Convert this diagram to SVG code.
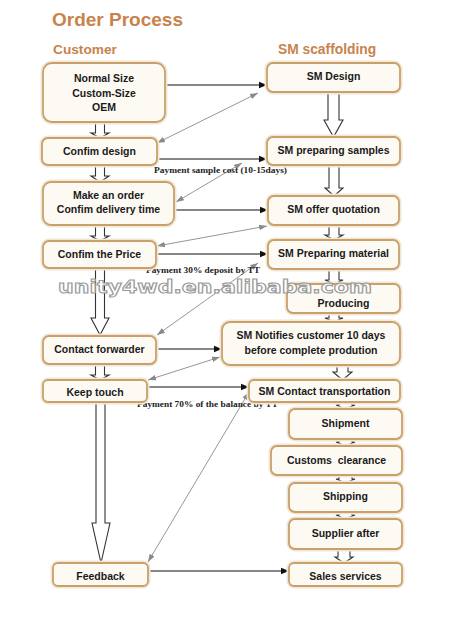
<svg xmlns="http://www.w3.org/2000/svg" width="450" height="624" viewBox="0 0 450 624">
<defs>
<style>
.bx{fill:#fdfaf3;stroke:#c9a06a;stroke-width:1.8}
.gl{fill:none;stroke:#f1e7d6;stroke-width:5}
.t{font-family:"Liberation Sans",Arial,sans-serif;font-weight:bold;font-size:10.5px;fill:#1a1a1a;text-anchor:middle}
.h{font-family:"Liberation Sans",Arial,sans-serif;font-weight:bold;fill:#c8834c}
.pay{font-family:"Liberation Serif","Times New Roman",serif;font-weight:bold;font-size:9px;fill:#222}
.blk{fill:#fff;stroke:#333;stroke-width:1.1}
.ha{stroke:#111;stroke-width:1.2;fill:none}
.ga{stroke:#8a8a8a;stroke-width:0.9;fill:none}
</style>
<marker id="mb" viewBox="0 0 10 10" refX="10" refY="5" markerWidth="8" markerHeight="8" markerUnits="userSpaceOnUse" orient="auto"><path d="M0,1 L10,5 L0,9 Z" fill="#111"/></marker>
<marker id="mg" viewBox="0 0 10 10" refX="10" refY="5" markerWidth="8" markerHeight="8" markerUnits="userSpaceOnUse" orient="auto-start-reverse"><path d="M0,1.5 L10,5 L0,8.5 Z" fill="#8a8a8a"/></marker>
</defs>
<rect width="450" height="624" fill="#ffffff"/>

<text class="h" x="52" y="26" font-size="19">Order Process</text>
<text class="h" x="53" y="54" font-size="13.7">Customer</text>
<text class="h" x="278" y="54" font-size="13.8">SM scaffolding</text>

<g id="connectors">
<path class="blk" d="M95.5,122 V133 H91 L100,138 L109,133 H104.5 V122"/>
<path class="blk" d="M95.5,165 V176 H91 L100,182 L109,176 H104.5 V165"/>
<path class="blk" d="M95.5,225 V236 H91 L100,241 L109,236 H104.5 V225"/>
<path class="blk" d="M95.5,268 V318 H91 L100,335 L109,318 H104.5 V268"/>
<path class="blk" d="M95.5,364 V375 H91 L100,380 L109,375 H104.5 V364"/>
<path class="blk" d="M96,402 V523 H92 L101,563 L110,523 H105 V402"/>
<path class="blk" d="M328,92 V120 H324 L333.5,137 L343,120 H339 V92"/>
<path class="blk" d="M329,165 V188 H325 L334,196 L343,188 H339 V165"/>
<path class="blk" d="M329,225 V235 H325 L334,240 L343,235 H339 V225"/>
<path class="blk" d="M329,269 V280 H325 L334,284 L343,280 H339 V269"/>
<path class="blk" d="M329,313 V318 H325 L334,322 L343,318 H339 V313"/>
<path class="blk" d="M337,365 V372 H333 L342.5,380 L352,372 H348 V365"/>
<path class="blk" d="M339,402 V405 H336 L345.5,409 L355,405 H352 V402"/>
<path class="blk" d="M339,439 V442 H336 L345.5,446 L355,442 H352 V439"/>
<path class="blk" d="M339,475 V479 H336 L345.5,483 L355,479 H352 V475"/>
<path class="blk" d="M339,512 V515 H336 L345.5,519 L355,515 H352 V512"/>
<path class="blk" d="M338,549 V557 H335 L344,563 L353,557 H350 V549"/>
<line class="ha" x1="165" y1="85" x2="267" y2="85" marker-end="url(#mb)"/>
<line class="ha" x1="157" y1="159" x2="267" y2="159" marker-end="url(#mb)"/>
<line class="ha" x1="174" y1="210" x2="268" y2="210" marker-end="url(#mb)"/>
<line class="ha" x1="156" y1="254" x2="268" y2="254" marker-end="url(#mb)"/>
<line class="ha" x1="156" y1="349" x2="222" y2="349" marker-end="url(#mb)"/>
<line class="ha" x1="147" y1="387" x2="249" y2="387" marker-end="url(#mb)"/>
<line class="ha" x1="148" y1="571" x2="289" y2="571" marker-end="url(#mb)"/>
<line class="ga" x1="157" y1="143" x2="258" y2="93" marker-start="url(#mg)" marker-end="url(#mg)"/>
<line class="ga" x1="176" y1="202" x2="242" y2="163" marker-start="url(#mg)" marker-end="url(#mg)"/>
<line class="ga" x1="157" y1="246" x2="267" y2="226" marker-start="url(#mg)" marker-end="url(#mg)"/>
<line class="ga" x1="157" y1="335" x2="258" y2="263" marker-start="url(#mg)" marker-end="url(#mg)"/>
<line class="ga" x1="148" y1="380" x2="220" y2="357" marker-start="url(#mg)" marker-end="url(#mg)"/>
<line class="ga" x1="148" y1="562" x2="249" y2="392" marker-start="url(#mg)" marker-end="url(#mg)"/>
</g>

<g id="labels">
<text class="pay" x="154" y="173" textLength="133" lengthAdjust="spacingAndGlyphs">Payment sample cost (10-15days)</text>
<text class="pay" x="146" y="273" textLength="114" lengthAdjust="spacingAndGlyphs">Payment 30% deposit by TT</text>
<text class="pay" x="137" y="407" textLength="141" lengthAdjust="spacingAndGlyphs">Payment 70% of the balance by TT</text>
</g>

<g id="c1"><rect class="gl" x="43" y="63" width="122" height="59" rx="9"/><rect class="bx" x="43" y="63" width="122" height="59" rx="9"/>
<text class="t" x="104" y="82">Normal Size</text><text class="t" x="104" y="97">Custom-Size</text><text class="t" x="104" y="111">OEM</text></g>
<g id="c2"><rect class="gl" x="42" y="138" width="115" height="27" rx="6"/><rect class="bx" x="42" y="138" width="115" height="27" rx="6"/>
<text class="t" x="99.5" y="155">Confim design</text></g>
<g id="c3"><rect class="gl" x="43" y="182" width="131" height="43" rx="8"/><rect class="bx" x="43" y="182" width="131" height="43" rx="8"/>
<text class="t" x="108.5" y="199">Make an order</text><text class="t" x="108.5" y="213">Confim delivery time</text></g>
<g id="c4"><rect class="gl" x="43" y="241" width="113" height="27" rx="6"/><rect class="bx" x="43" y="241" width="113" height="27" rx="6"/>
<text class="t" x="99.5" y="258">Confim the Price</text></g>
<g id="c5"><rect class="gl" x="43" y="336" width="113" height="28" rx="6"/><rect class="bx" x="43" y="336" width="113" height="28" rx="6"/>
<text class="t" x="99.5" y="353">Contact forwarder</text></g>
<g id="c6"><rect class="gl" x="43" y="380" width="104" height="22" rx="5"/><rect class="bx" x="43" y="380" width="104" height="22" rx="5"/>
<text class="t" x="95" y="396">Keep touch</text></g>
<g id="c7"><rect class="gl" x="53" y="563" width="95" height="23" rx="5"/><rect class="bx" x="53" y="563" width="95" height="23" rx="5"/>
<text class="t" x="100.5" y="580">Feedback</text></g>

<g id="s1"><rect class="gl" x="267" y="63" width="133" height="29" rx="6"/><rect class="bx" x="267" y="63" width="133" height="29" rx="6"/>
<text class="t" x="333.5" y="80">SM Design</text></g>
<g id="s2"><rect class="gl" x="267" y="137" width="133" height="28" rx="6"/><rect class="bx" x="267" y="137" width="133" height="28" rx="6"/>
<text class="t" x="333.5" y="154">SM preparing samples</text></g>
<g id="s3"><rect class="gl" x="268" y="196" width="131" height="29" rx="6"/><rect class="bx" x="268" y="196" width="131" height="29" rx="6"/>
<text class="t" x="333.5" y="213">SM offer quotation</text></g>
<g id="s4"><rect class="gl" x="268" y="240" width="131" height="29" rx="6"/><rect class="bx" x="268" y="240" width="131" height="29" rx="6"/>
<text class="t" x="333.5" y="257">SM Preparing material</text></g>
<g id="s5"><rect class="gl" x="287" y="284" width="113" height="29" rx="6"/><rect class="bx" x="287" y="284" width="113" height="29" rx="6"/>
<text class="t" x="343.5" y="307">Producing</text></g>
<g id="s6"><rect class="gl" x="222" y="322" width="178" height="43" rx="8"/><rect class="bx" x="222" y="322" width="178" height="43" rx="8"/>
<text class="t" x="311" y="339">SM Notifies customer 10 days</text><text class="t" x="311" y="354">before complete prodution</text></g>
<g id="s7"><rect class="gl" x="249" y="380" width="151" height="22" rx="5"/><rect class="bx" x="249" y="380" width="151" height="22" rx="5"/>
<text class="t" x="324.5" y="395">SM Contact transportation</text></g>
<g id="s8"><rect class="gl" x="289" y="409" width="113" height="30" rx="6"/><rect class="bx" x="289" y="409" width="113" height="30" rx="6"/>
<text class="t" x="345.5" y="427">Shipment</text></g>
<g id="s9"><rect class="gl" x="271" y="446" width="131" height="29" rx="6"/><rect class="bx" x="271" y="446" width="131" height="29" rx="6"/>
<text class="t" x="336.5" y="464">Customs&#160; clearance</text></g>
<g id="s10"><rect class="gl" x="289" y="483" width="113" height="29" rx="6"/><rect class="bx" x="289" y="483" width="113" height="29" rx="6"/>
<text class="t" x="345.5" y="500">Shipping</text></g>
<g id="s11"><rect class="gl" x="289" y="519" width="113" height="30" rx="6"/><rect class="bx" x="289" y="519" width="113" height="30" rx="6"/>
<text class="t" x="345.5" y="537">Supplier after</text></g>
<g id="s12"><rect class="gl" x="289" y="563" width="113" height="23" rx="5"/><rect class="bx" x="289" y="563" width="113" height="23" rx="5"/>
<text class="t" x="345.5" y="580">Sales services</text></g>

<text x="58" y="293" textLength="314" lengthAdjust="spacingAndGlyphs" font-family="'DejaVu Sans',sans-serif" font-weight="bold" font-size="18" fill="#ffffff" fill-opacity="0.85" stroke="#9a9a9a" stroke-width="1.1">unity4wd.en.alibaba.com</text>
</svg>
